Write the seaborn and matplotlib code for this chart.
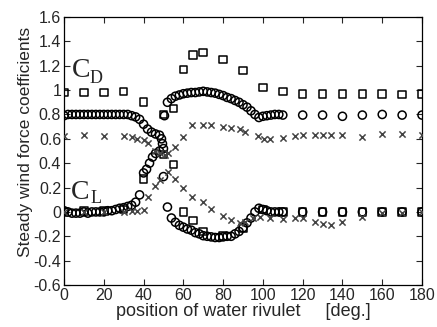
import numpy as np
import pandas as pd
import matplotlib
matplotlib.use("Agg")
import matplotlib.pyplot as plt
import seaborn as sns

# Squares: coarse measurement
sq_x = [0, 10, 20, 30, 40, 50, 55, 60, 65, 70, 80, 90, 100, 110, 120, 130, 140, 150, 160, 170, 180]
sq_cd = [0.98, 0.98, 0.98, 0.99, 0.90, 0.80, 0.85, 1.17, 1.29, 1.31, 1.25, 1.16, 1.02, 0.99,
         0.97, 0.97, 0.97, 0.97, 0.97, 0.965, 0.97]
sq_cl = [0.0, 0.01, 0.01, 0.02, 0.27, 0.47, 0.39, 0.0, -0.07, -0.16, -0.2, -0.13, 0.02, 0.0,
         0.0, 0.0, 0.0, 0.0, 0.0, 0.0, 0.0]

# Circles: dense measurement
circ_cd_x = [0, 2, 4, 6, 8, 10, 12, 14, 16, 18, 20, 22, 24, 26, 28, 30, 32, 34, 36, 38, 40,
             42, 44, 46, 48, 49, 49.5, 50, 50.5, 52, 54, 56, 58, 60, 62, 64, 66, 68, 70, 72,
             74, 76, 78, 80, 82, 84, 86, 88, 90, 92, 94, 96, 98, 100, 102, 104, 106, 108, 110,
             120, 130, 140, 150, 160, 170, 180]
circ_cd = [0.79, 0.80, 0.80, 0.80, 0.80, 0.80, 0.80, 0.80, 0.80, 0.80, 0.80, 0.80, 0.80, 0.80,
           0.80, 0.80, 0.80, 0.79, 0.78, 0.76, 0.72, 0.68, 0.655, 0.64, 0.63, 0.60, 0.56, 0.52,
           0.79, 0.90, 0.93, 0.95, 0.96, 0.97, 0.975, 0.98, 0.98, 0.985, 0.99, 0.985, 0.98,
           0.975, 0.965, 0.955, 0.94, 0.93, 0.915, 0.90, 0.88, 0.86, 0.83, 0.80, 0.775, 0.785,
           0.79, 0.795, 0.80, 0.80, 0.795, 0.795, 0.795, 0.785, 0.795, 0.80, 0.795, 0.795]
circ_cl_x = [0, 2, 4, 6, 8, 10, 12, 14, 16, 18, 20, 22, 24, 26, 28, 30, 32, 34, 36, 38, 40,
             41.5, 43, 44.5, 46, 48, 50, 52, 54, 56, 58, 60, 62, 64, 66, 68, 70, 72, 74, 76,
             78, 80, 82, 84, 86, 88, 90, 92, 94, 96, 98, 100, 102, 104, 106, 108, 110,
             120, 130, 140, 150, 160, 170, 180]
circ_cl = [0.01, 0.0, -0.01, -0.01, -0.01, 0.0, -0.01, 0.0, 0.0, 0.0, 0.0, 0.01, 0.01, 0.02,
           0.03, 0.035, 0.045, 0.055, 0.08, 0.14, 0.32, 0.35, 0.40, 0.45, 0.48, 0.50, 0.29,
           0.04, -0.05, -0.085, -0.11, -0.125, -0.14, -0.15, -0.17, -0.18, -0.195, -0.2,
           -0.205, -0.21, -0.21, -0.205, -0.2, -0.2, -0.18, -0.16, -0.13, -0.09, -0.05, 0.0,
           0.03, 0.02, 0.01, 0.0, 0.0, 0.0, 0.0, 0.0, 0.0, 0.0, 0.0, 0.0, 0.0, 0.0]

# Crosses: third data set
x_cd_x = [0, 10, 20, 30, 34, 36.5, 40, 42, 45.7, 48.5, 51, 52.4, 55.8, 60, 64.2, 70, 74, 80,
          84, 88.5, 91, 97.7, 100.3, 103.5, 110, 116, 120, 126, 130, 134, 140, 150, 160, 170, 180]
x_cd = [0.62, 0.63, 0.62, 0.62, 0.615, 0.60, 0.59, 0.565, 0.50, 0.48, 0.47, 0.48, 0.535, 0.615,
        0.71, 0.71, 0.71, 0.70, 0.69, 0.68, 0.66, 0.62, 0.60, 0.60, 0.61, 0.62, 0.63, 0.63,
        0.63, 0.63, 0.63, 0.615, 0.64, 0.64, 0.63]
x_cl_x = [0, 10, 20, 30, 34, 36.5, 40, 42, 45.7, 48.5, 52.3, 55.8, 60, 64.2, 70, 74, 80, 84,
          88.5, 91, 95, 98.5, 103.5, 110, 116, 120, 126, 130, 134, 140, 150, 160, 170, 180]
x_cl = [0.0, 0.0, 0.0, 0.0, 0.01, 0.01, 0.015, 0.12, 0.21, 0.26, 0.33, 0.27, 0.20, 0.125, 0.08,
        0.02, -0.03, -0.07, -0.09, -0.08, -0.05, -0.04, -0.05, -0.06, -0.05, -0.05, -0.08,
        -0.10, -0.11, -0.08, -0.04, -0.01, -0.01, 0.0]

sns.set_style("ticks")
plt.rcParams["font.family"] = ["Liberation Sans", "DejaVu Sans"]
plt.rcParams["xtick.direction"] = "in"
plt.rcParams["ytick.direction"] = "in"

fig, ax = plt.subplots(figsize=(4.37, 3.27), dpi=100)
fig.subplots_adjust(left=0.1465, right=0.9657, top=0.948, bottom=0.1284)

open_kw = dict(facecolor="none", edgecolor="black", linewidth=1.1, ax=ax, legend=False, zorder=3)
for xs, ys in [(sq_x, sq_cd), (sq_x, sq_cl)]:
    sns.scatterplot(x=xs, y=ys, marker="s", s=30, **open_kw)
for xs, ys in [(circ_cd_x, circ_cd), (circ_cl_x, circ_cl)]:
    sns.scatterplot(x=xs, y=ys, marker="o", s=34, **open_kw)
for xs, ys in [(x_cd_x, x_cd), (x_cl_x, x_cl)]:
    sns.scatterplot(x=xs, y=ys, marker="x", s=20, color="#444444", linewidth=1.1,
                    ax=ax, legend=False, zorder=3)

ax.set_xlim(0, 180)
ax.set_ylim(-0.6, 1.6)
ax.set_xticks(np.arange(0, 181, 20))
ax.set_yticks(np.round(np.arange(-0.6, 1.61, 0.2), 1))
ax.set_yticklabels(["-0.6", "-0.4", "-0.2", "0", "0.2", "0.4", "0.6", "0.8", "1", "1.2", "1.4", "1.6"])
ax.tick_params(axis="both", labelsize=11.5, length=4, width=0.8, top=True, right=True, pad=2)
for sp in ax.spines.values():
    sp.set_visible(True)
    sp.set_linewidth(0.9)
    sp.set_color("black")

ax.set_xlabel("position of water rivulet     [deg.]", fontsize=13, labelpad=0)
ax.set_ylabel("Steady wind force coefficients", fontsize=12.5)
ax.yaxis.set_label_coords(-0.087, 0.534)

serif = ["Liberation Serif", "DejaVu Serif"]
ax.text(4.0, 1.157, "C", family=serif, fontsize=20, va="center", ha="left")
ax.text(13.0, 1.06, "D", family=serif, fontsize=13, va="baseline", ha="left")
ax.text(3.5, 0.163, "C", family=serif, fontsize=20, va="center", ha="left")
ax.text(13.5, 0.073, "L", family=serif, fontsize=13, va="baseline", ha="left")

fig.savefig("out.png", dpi=100)
